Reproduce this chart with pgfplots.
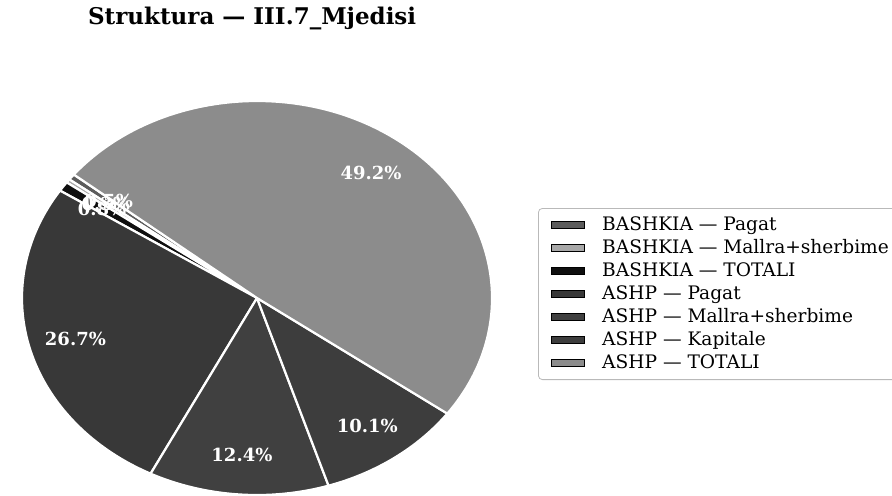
\documentclass[border=0pt]{standalone}
\usepackage{fontspec}
\setmainfont{DejaVu Serif}
\usepackage{pgfplots}
\pgfplotsset{compat=1.18}
\definecolor{c1}{gray}{0.36}
\definecolor{c2}{gray}{0.66}
\definecolor{c3}{gray}{0.06}
\definecolor{c4}{gray}{0.22}
\definecolor{c5}{gray}{0.25}
\definecolor{c6}{gray}{0.24}
\definecolor{c7}{gray}{0.55}
% pie geometry (axis units = px of the reference)
\newcommand\cx{257}
\newcommand\cy{197}
\newcommand\rx{235}
\newcommand\ry{197}
\newcommand\cum{141.2}
\newcommand\cumL{141.2}
\newcommand\pieslice[2]{%
  \pgfmathsetmacro\sa{\cum}%
  \pgfmathsetmacro\sb{\cum+3.6*#1}%
  \pgfmathsetmacro\sx{\cx+\rx*cos(\sa)}%
  \pgfmathsetmacro\sy{\cy+\ry*sin(\sa)}%
  \edef\temp{\noexpand\fill[fill=#2, draw=white, line width=1.1pt, line join=round] (axis cs:\cx,\cy) -- (axis cs:\sx,\sy) arc[start angle=\sa, end angle=\sb, x radius=117.5pt, y radius=98.5pt] -- cycle;}%
  \temp
  \xdef\cum{\sb}%
}
\newcommand\pielabel[1]{%
  \pgfmathsetmacro\la{\cumL}%
  \pgfmathsetmacro\lb{\cumL+3.6*#1}%
  \pgfmathsetmacro\lm{(\la+\lb)/2}%
  \pgfmathsetmacro\lx{\cx+0.8*\rx*cos(\lm)}%
  \pgfmathsetmacro\ly{\cy+0.8*\ry*sin(\lm)}%
  \edef\temp{\noexpand\node[text=white, font=\noexpand\bfseries\noexpand\fontsize{9}{10}\noexpand\selectfont] at (axis cs:\lx,\ly) {#1\noexpand\%};}%
  \temp
  \xdef\cumL{\lb}%
}
\begin{document}
\begin{tikzpicture}
\useasboundingbox (0,0) rectangle (446pt,247.5pt);
\clip (0,0) rectangle (446pt,247.5pt);
\begin{axis}[
  at={(0,0)}, anchor=south west,
  scale only axis, width=446pt, height=247.5pt,
  xmin=0, xmax=892, ymin=0, ymax=495,
  hide axis, clip=false,
  legend image code/.code={\fill[sharp corners, #1] (0pt,-1.75pt) rectangle (16.5pt,1.75pt);},
  legend cell align=left,
  legend style={at={(axis cs:538,287)}, anchor=north west,
    font=\fontsize{9.3}{10.5}\selectfont, draw=gray!55, line width=0.4pt,
    rounded corners=2pt, inner xsep=6.5pt, inner ysep=2pt, row sep=-0.95pt,
    column sep=6.5pt},
]
\pieslice{0.5}{c1}
\pieslice{0.3}{c2}
\pieslice{0.8}{c3}
\pieslice{26.7}{c4}
\pieslice{12.4}{c5}
\pieslice{10.1}{c6}
\pieslice{49.2}{c7}
\pielabel{0.5}
\pielabel{0.3}
\pielabel{0.8}
\pielabel{26.7}
\pielabel{12.4}
\pielabel{10.1}
\pielabel{49.2}
\node[font=\bfseries\fontsize{11.5}{13}\selectfont, anchor=west] at (axis cs:81,477) {Struktura — III.7\_Mjedisi};
\addlegendimage{fill=c1}\addlegendentry{BASHKIA — Pagat}
\addlegendimage{fill=c2}\addlegendentry{BASHKIA — Mallra+sherbime}
\addlegendimage{fill=c3}\addlegendentry{BASHKIA — TOTALI}
\addlegendimage{fill=c4}\addlegendentry{ASHP — Pagat}
\addlegendimage{fill=c5}\addlegendentry{ASHP — Mallra+sherbime}
\addlegendimage{fill=c6}\addlegendentry{ASHP — Kapitale}
\addlegendimage{fill=c7}\addlegendentry{ASHP — TOTALI}
\end{axis}
\end{tikzpicture}
\end{document}
